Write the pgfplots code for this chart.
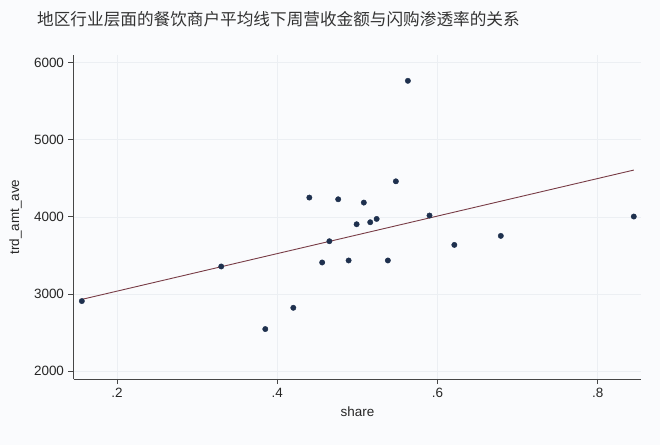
\documentclass[border=0pt]{standalone}
\usepackage{pgfplots}
\pgfplotsset{compat=1.18}
\usepackage{fontspec}
\setmainfont{Liberation Sans}
\newfontfamily\cjk{Noto Sans CJK SC}

\definecolor{bgc}{RGB}{250,251,253}
\definecolor{dotc}{RGB}{30,48,78}
\definecolor{fitc}{RGB}{120,60,70}
\definecolor{axc}{RGB}{70,70,70}
\definecolor{gridc}{RGB}{236,239,243}

% share vs trd_amt_ave, one row per region
\pgfplotstableread{
share trd
0.156 2907
0.330 3356
0.385 2544
0.420 2820
0.440 4250
0.456 3408
0.465 3684
0.476 4228
0.489 3434
0.499 3904
0.508 4185
0.516 3930
0.524 3973
0.538 3434
0.548 4461
0.563 5765
0.590 4017
0.621 3636
0.679 3753
0.845 4004
}\pts

\begin{document}
\begin{tikzpicture}
\fill[bgc] (0bp,0bp) rectangle (660bp,-445bp);
\path[use as bounding box] (0bp,0bp) rectangle (660bp,-445bp);

\node[anchor=west, inner sep=0pt, text=black!80] at (37bp,-19bp)
  {\cjk\fontsize{16.7}{17}\selectfont 地区行业层面的餐饮商户平均线下周营收金额与闪购渗透率的关系};

\begin{axis}[
  at={(73.5bp,-379bp)}, anchor=south west,
  scale only axis, width=567.5bp, height=324bp,
  xmin=0.1456, xmax=0.854, ymin=1896, ymax=6100,
  axis x line*=bottom, axis y line*=left,
  axis line style={axc, line width=0.8bp, -},
  xtick={0.2,0.4,0.6,0.8}, xticklabels={.2,.4,.6,.8},
  ytick={2000,3000,4000,5000,6000},
  yticklabels={2000,3000,4000,5000,6000},
  tick align=outside, major tick length=5bp,
  tick style={axc, line width=0.8bp},
  ticklabel style={font=\fontsize{13.5}{14}\selectfont, text=black!85},
  xticklabel style={yshift=-1bp},
  yticklabel style={xshift=-1bp},
  grid=major, major grid style={gridc, line width=0.6bp},
  clip=false,
]
\addplot[only marks, mark=*, mark size=2.7bp, draw=dotc, fill=dotc] table[x=share, y=trd] {\pts};
\addplot[fitc, line width=0.9bp] coordinates {(0.156,2929) (0.845,4607)};
\end{axis}

\node[font=\fontsize{13.5}{14}\selectfont, text=black!85] at (357.5bp,-412bp) {share};
\node[font=\fontsize{13.5}{14}\selectfont, text=black!85, rotate=90] at (15.5bp,-217bp) {trd\_amt\_ave};
\end{tikzpicture}
\end{document}
